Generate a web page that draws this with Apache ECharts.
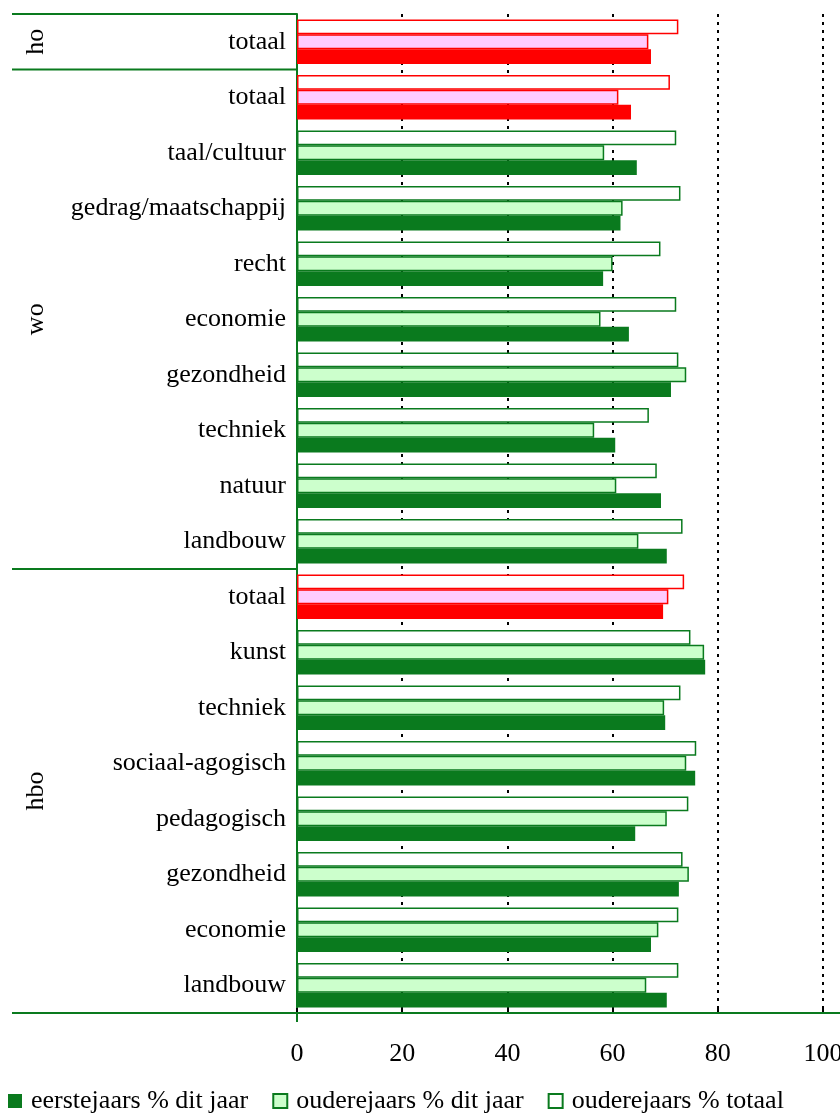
<!DOCTYPE html>
<html>
<head>
<meta charset="utf-8">
<script src="https://cdn.jsdelivr.net/npm/echarts@6/dist/echarts.min.js"></script>
<style>
html,body{margin:0;padding:0;background:#fff;}
#chart{width:840px;height:1113px;}
</style>
</head>
<body>
<div id="chart"></div>
<script>
// ---- data ----
const categories = ['totaal','totaal','taal/cultuur','gedrag/maatschappij','recht','economie','gezondheid','techniek','natuur','landbouw','totaal','kunst','techniek','sociaal-agogisch','pedagogisch','gezondheid','economie','landbouw'];
const groupNames = ['ho','wo','hbo'];
const groupSizes = [1, 9, 8];
const totaalRows = [0, 1, 10];
const eerstejaarsDitJaar = [67.3,63.5,64.6,61.5,58.2,63.1,71.1,60.5,69.2,70.3,69.6,77.6,70.0,75.7,64.3,72.6,67.3,70.3];
const ouderejaarsDitJaar = [66.8,61.1,58.4,61.9,60.0,57.7,74.0,56.5,60.7,64.9,70.6,77.4,69.8,74.0,70.3,74.5,68.7,66.4];
const ouderejaarsTotaal  = [72.5,70.9,72.1,72.9,69.1,72.1,72.5,66.9,68.4,73.3,73.6,74.8,72.9,75.9,74.4,73.3,72.5,72.5];
const seriesNames = ['eerstejaars % dit jaar','ouderejaars % dit jaar','ouderejaars % totaal'];
const xTicks = [0,20,40,60,80,100];

// ---- styles ----
const FONT = 'Liberation Serif';
const FS = 26;
const DKGREEN = '#0A7A1E', LTGREEN = '#CCFFCC', RED = '#FF0000', PINK = '#FFCCFF';
const AXISGREEN = '#0A7A1E';

const catKeys = categories.map((c, i) => i + '|' + c);

function mk(values, red) {
  return values.map((v, i) => totaalRows.indexOf(i) >= 0 ? {value: v, itemStyle: red} : {value: v});
}

const chart = echarts.init(document.getElementById('chart'), null, {renderer: 'canvas'});
const option = {
  animation: false,
  backgroundColor: '#fff',
  textStyle: {fontFamily: FONT},
  grid: {left: 297, right: 17, top: 14, bottom: 100, containLabel: false, outerBoundsMode: 'none'},
  legend: {
    left: 8, top: 1088, padding: 0,
    itemWidth: 14, itemHeight: 14, itemGap: 24,
    icon: 'rect',
    textStyle: {fontFamily: FONT, fontSize: FS, color: '#000', padding: [0,0,0,4]},
    data: seriesNames
  },
  xAxis: {
    type: 'value', min: 0, max: 100, interval: 20,
    axisLine: {show: true, lineStyle: {color: AXISGREEN, width: 2}},
    axisTick: {show: true, inside: true, length: 5, lineStyle: {color: '#000', width: 2}},
    axisLabel: {fontFamily: FONT, fontSize: FS, color: '#000', margin: 28, showMaxLabel: true,
      formatter: v => xTicks.indexOf(v) >= 0 ? String(v) : ''},
    splitLine: {show: true, lineStyle: {color: '#000', width: 2, type: [3, 5]}}
  },
  yAxis: {
    type: 'category', inverse: true, data: catKeys,
    axisLine: {show: true, lineStyle: {color: AXISGREEN, width: 2}},
    axisTick: {show: false},
    axisLabel: {fontFamily: FONT, fontSize: FS, color: '#000', margin: 11,
      formatter: v => v.split('|')[1]}
  },
  series: [
    {
      name: seriesNames[2], type: 'bar', barGap: '0%', barCategoryGap: '20%',
      itemStyle: {color: '#fff', borderColor: DKGREEN, borderWidth: 1.5},
      data: mk(ouderejaarsTotaal, {color: '#fff', borderColor: RED, borderWidth: 1.5})
    },
    {
      name: seriesNames[1], type: 'bar', barGap: '0%', barCategoryGap: '20%',
      itemStyle: {color: LTGREEN, borderColor: DKGREEN, borderWidth: 1.5},
      data: mk(ouderejaarsDitJaar, {color: PINK, borderColor: RED, borderWidth: 1.5})
    },
    {
      name: seriesNames[0], type: 'bar', barGap: '0%', barCategoryGap: '20%',
      itemStyle: {color: DKGREEN, borderWidth: 0},
      data: mk(eerstejaarsDitJaar, {color: RED, borderWidth: 0})
    }
  ]
};
chart.setOption(option);

// group separators and labels, positioned through the axis
const c0 = chart.convertToPixel({yAxisIndex: 0}, catKeys[0]);
const c1 = chart.convertToPixel({yAxisIndex: 0}, catKeys[1]);
const step = c1 - c0;
const x0 = chart.convertToPixel({xAxisIndex: 0}, 0);
const topY = c0 - step / 2;
const botY = chart.convertToPixel({yAxisIndex: 0}, catKeys[catKeys.length - 1]) + step / 2;
const graphics = [];
const lineStyle = {stroke: AXISGREEN, lineWidth: 2};
graphics.push({type: 'line', shape: {x1: 12, y1: topY, x2: x0, y2: topY}, style: lineStyle, z: 10});
graphics.push({type: 'line', shape: {x1: 12, y1: botY, x2: 840, y2: botY}, style: lineStyle, z: 10});
graphics.push({type: 'line', shape: {x1: x0, y1: botY, x2: x0, y2: botY + 9}, style: lineStyle, z: 10});
let start = 0;
groupNames.forEach((g, k) => {
  const end = start + groupSizes[k];
  const yTop = c0 + (start - 0.5) * step;
  const yBot = c0 + (end - 0.5) * step;
  if (k < groupNames.length - 1) {
    graphics.push({type: 'line', shape: {x1: 12, y1: yBot, x2: x0, y2: yBot}, style: lineStyle, z: 10});
  }
  graphics.push({
    type: 'text', x: 36, y: (yTop + yBot) / 2, rotation: Math.PI / 2,
    style: {text: g, font: FS + 'px "' + FONT + '"', fill: '#000', align: 'center', verticalAlign: 'middle'},
    z: 10
  });
  start = end;
});
chart.setOption({graphic: graphics});
</script>
</body>
</html>
